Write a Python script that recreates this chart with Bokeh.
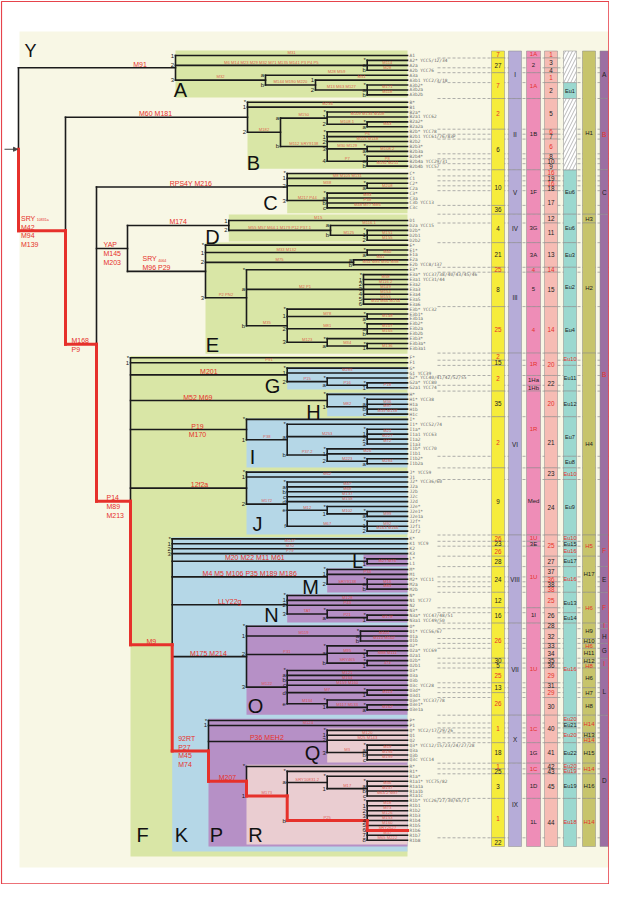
from bokeh.plotting import figure
from bokeh.models import Range1d, ColumnDataSource, Arrow, NormalHead
from bokeh.core.properties import value
from bokeh.embed import file_html
from bokeh.resources import INLINE

# ======================= DATA =======================
clade_A = ("A", ["A1", ("A2", ["A2*", "A2a", "A2b"]),
                 ("A3", ["A3a", ("A3b", ["A3b1", ("A3b2", ["A3b2*", "A3b2a", "A3b2b"])])])])
clade_B = ("B", ["B*", "B1",
                 ("B2", [("B2a", ["B2a*", "B2a1", ("B2a2", ["B2a2*", "B2a2a"])]),
                         ("B2b", ["B2b*", "B2b1", "B2b2", ("B2b3", ["B2b3*", "B2b3a"]),
                                  ("B2b4", ["B2b4*", "B2b4a", "B2b4b"])])])])
clade_C = ("C", ["C*", "C1", ("C2", ["C2*", "C2a"]), ("C3", ["C3*", "C3a", "C3b", "C3c"])])
clade_D = ("D", ["D1", ("D2", ["D2a", ("D2b", ["D2b*", "D2b1", "D2b2"])])])
clade_E = ("E", ["E*", ("E1", ["E1*", "E1a"]), ("E2", ["E2a", "E2b"]),
                 ("E3", ["E3*",
                         ("E3a", ["E3a*", "E3a1", "E3a2", "E3a3", "E3a4", "E3a5", "E3a6"]),
                         ("E3b", ["E3b*", ("E3b1", ["E3b1*", "E3b1a"]),
                                  ("E3b2", ["E3b2*", "E3b2a", "E3b2b"]),
                                  ("E3b3", ["E3b3*", ("E3b3a", ["E3b3a*", "E3b3a1"])])])])])
clade_G = ("G", ["G*", "G1", ("G2", ["G2*", ("G2a", ["G2a*", "G2a1"])])])
clade_H = ("H", ["H*", ("H1", ["H1*", "H1a", "H1b", "H1c"])])
clade_I = ("I", ["I*", ("I1", ["I1*", ("I1a", ["I1a*", "I1a1", "I1a2", "I1a3"]),
                               ("I1b", ["I1b*", "I1b1", ("I1b2", ["I1b2*", "I1b2a"])])])])
clade_J = ("J", ["J*", "J1", ("J2", ["J2*", "J2a", "J2b", "J2c", "J2d",
                                     ("J2e", ["J2e*", ("J2e1", ["J2e1*", "J2e1a"])]),
                                     ("J2f", ["J2f*", "J2f1", "J2f2"])])])
clade_L = ("L", ["L*", "L1"])
clade_M = ("M", ["M*", "M1", ("M2", ["M2*", "M2a", "M2b"])])
clade_N = ("N", ["N*", "N1", "N2", ("N3", ["N3*", ("N3a", ["N3a*", "N3a1"])])])
clade_O = ("O", ["O*", ("O1", ["O1*", "O1a", "O1b"]),
                 ("O2", ["O2*", ("O2a", ["O2a*", "O2a1"]), ("O2b", ["O2b*", "O2b1"])]),
                 ("O3", ["O3*", "O3a", "O3b", "O3c", ("O3d", ["O3d*", "O3d1"]),
                         ("O3e", ["O3e*", ("O3e1", ["O3e1*", "O3e1a"])])])])
clade_Q = ("Q", ["Q*", "Q1", "Q2", ("Q3", ["Q3*", "Q3a", "Q3b", "Q3c"])])
clade_R = ("R", ["R*", ("R1", ["R1*",
                               ("R1a", ["R1a*", ("R1a1", ["R1a1*", "R1a1a", "R1a1b", "R1a1c"])]),
                               ("R1b", ["R1b*", "R1b1", "R1b2", "R1b3", "R1b4",
                                        "R1b5", "R1b6", "R1b7", "R1b8"])])])
clade_P = ("P", ["P*", "P1", clade_Q, clade_R])
clade_K = ("K", ["K*", "K1", "K2", "K3", clade_L, clade_M, clade_N, clade_O, clade_P])
clade_F = ("F", ["F*", "F1", clade_G, clade_H, clade_I, clade_J, clade_K])
node_YAP = ("YAP", [clade_D, clade_E])
node_M168 = ("M168", [clade_C, node_YAP, clade_F])
node_M42 = ("M42", [clade_B, node_M168])
tree = ("Y", [clade_A, node_M42])

highlight_leaf = "R1b6"

# major mutation labels: (lines above branch, lines below branch, anchoring)
major_markers = {
    "A": (["M91"], [], "c"),
    "M42": (["SRY_10831a", "M42"], ["M94", "M139"], "l"),
    "B": (["M60  M181"], [], "c"),
    "M168": (["M168"], ["P9"], "l"),
    "C": (["RPS4Y  M216"], [], "c"),
    "YAP": (["YAP"], ["M145", "M203"], "l"),
    "D": (["M174"], [], "c"),
    "E": (["SRY_4064", "M96    P29"], [], "l"),
    "F": (["P14"], ["M89", "M213"], "l"),
    "G": (["M201"], [], "c"),
    "H": (["M52  M69"], [], "c"),
    "I": (["P19"], ["M170"], "c"),
    "J": (["12f2a"], [], "c"),
    "K": (["M9"], [], "c"),
    "L": (["M20  M22  M11  M61"], [], "c"),
    "M": (["M4 M5 M106 P35 M189 M186"], [], "c"),
    "N": (["LLY22g"], [], "c"),
    "O": (["M175  M214"], [], "c"),
    "P": (["92RT", "P27"], ["M45", "M74"], "l"),
    "Q": (["P36  MEH2"], [], "c"),
    "R": (["M207"], [], "c"),
}

branch_markers = {
    "A1": "M31", "A2": "M6 M14 M23 M29 M32 M71 M135 M141 P3 P4 P5", "A2a": "M114", "A2b": "M28",
    "A3": "M32", "A3a": "M28 M59", "A3b": "M144 M190 M220", "A3b1": "M51", "A3b2": "M13 M63 M127",
    "A3b2a": "M171", "A3b2b": "M118",
    "B1": "M236", "B2": "M182", "B2a": "M150", "B2a1": "M109 M135 M108", "B2a2": "M108.1", "B2a2a": "M43",
    "B2b": "M112 SRY9138", "B2b1": "P6", "B2b2": "M115 M148", "B2b3": "M30 M129", "B2b3a": "M108.2",
    "B2b4": "P7", "B2b4a": "P8", "B2b4b": "M192 M211",
    "C1": "M8 M105 M131", "C2": "M38", "C2a": "M208", "C3": "M217 P44", "C3a": "M93", "C3b": "P39",
    "C3c": "M48 M77 M86",
    "D1": "M15", "D2": "M55 M57 M64.1 M179 P12 P37.1", "D2a": "M116.1", "D2b": "M125", "D2b1": "M151",
    "D2b2": "M155",
    "E1": "M33 M132", "E1a": "M40", "E2": "M75", "E2a": "M41", "E2b": "M54 M85 M90 M98",
    "E3": "P2 PN2", "E3a": "M2 P1", "E3a1": "M58", "E3a2": "M116.2", "E3a3": "M149", "E3a4": "M154",
    "E3a5": "M155", "E3a6": "M10 M66 M154",
    "E3b": "M35", "E3b1": "M78", "E3b1a": "M148", "E3b2": "M81", "E3b2a": "M107", "E3b2b": "M165",
    "E3b3": "M123", "E3b3a": "M34", "E3b3a1": "M136",
    "F1": "P91", "G1": "M285", "G2": "P15", "G2a": "P16", "G2a1": "P18",
    "H1": "M82", "H1a": "M36", "H1b": "M97", "H1c": "M39 M138",
    "I1": "P38", "I1a": "M253", "I1a1": "M21", "I1a2": "M227", "I1a3": "M72", "I1b": "P37.2",
    "I1b1": "M26", "I1b2": "M223", "I1b2a": "M284",
    "J1": "M62", "J2": "M172", "J2a": "M47", "J2b": "M68", "J2c": "M137", "J2d": "M158", "J2e": "M12",
    "J2e1": "M102", "J2e1a": "M99", "J2f": "M67", "J2f1": "M92", "J2f2": "M163 M166",
    "K1": "M147", "K2": "M70", "K3": "P79",
    "L1": "M27 M76", "M1": "P34", "M2": "SRY9138", "M2a": "M16", "M2b": "M83",
    "N1": "M128", "N2": "P43", "N3": "TAT", "N3a": "P21", "N3a1": "M178",
    "O1": "M119", "O1a": "M101", "O1b": "M110 M102", "O2": "P31", "O2a": "M95", "O2a1": "M88 M111",
    "O2b": "SRY465", "O2b1": "47z", "O3": "M122", "O3a": "M121", "O3b": "M164", "O3c": "M159 M160",
    "O3d": "M7", "O3d1": "M113", "O3e": "M134", "O3e1": "M117 M133", "O3e1a": "M162",
    "P1": "M124", "Q1": "M120", "Q2": "M25 M143", "Q3": "M3", "Q3a": "M19", "Q3b": "M194", "Q3c": "M199",
    "R1": "M173", "R1a": "SRY10831.2", "R1a1": "M17", "R1a1a": "M56", "R1a1b": "M157", "R1a1c": "M64.2 M87",
    "R1b": "P25", "R1b1": "M18", "R1b2": "M73", "R1b3": "M126", "R1b4": "M153", "R1b5": "M160",
    "R1b6": "SRY2627", "R1b7": "M37", "R1b8": "M65 M222",
}

leaf_notes = {
    "A2*": "YCC5/12/34", "A2b": "YCC76", "A3b1": "YCC2/3/18", "B2a1": "YCC62", "B2b*": "YCC78",
    "B2b1": "YCC61/76/83P", "B2b4a": "YCC29/31", "B2b4b": "YCC57", "C3b": "YCC13", "D2a": "YCC15",
    "E2b": "YCC8/137", "E3a*": "YCC37/38/40/43/45/46", "E3a1": "YCC31/44", "E3b*": "YCC32",
    "G1": "YCC39", "G2*": "YCC40/41/42/52/55", "G2a*": "YCC80", "G2a1": "YCC74", "H1*": "YCC38",
    "I1*": "YCC52/74", "I1a1": "YCC63", "I1b*": "YCC70", "J*": "YCC59", "J2*": "YCC36/60",
    "K1": "YCC9", "M2*": "YCC11", "N1": "YCC77", "N3a*": "YCC47/48/51", "N3a1": "YCC49/50",
    "O1*": "YCC56/67", "O2a*": "YCC69", "O3c": "YCC28", "O3e*": "YCC37/78", "Q*": "YCC2/17/29/26",
    "Q3*": "YCC12/15/23/24/27/28", "Q3c": "YCC14", "R1a1*": "YCC75/82", "R1b*": "YCC26/27/30/65/71",
}

# clade shading: clade -> colour key
clade_boxes = [("A", "g"), ("B", "g"), ("C", "g"), ("D", "g"), ("E", "g"), ("F", "g"),
               ("G", "b"), ("H", "b"), ("I", "b"), ("J", "b"), ("K", "b"),
               ("L", "p"), ("M", "p"), ("N", "p"), ("O", "p"), ("P", "p"),
               ("Q", "r"), ("R", "r")]

# right-hand nomenclature columns: (label, first leaf, last leaf, style 0=black 1=red 2=hatched)
col_yellow = [
    ("7", "A1", "A1", 1), ("27", "A2*", "A2b", 0), ("7", "A3a", "A3b2b", 1),
    ("2", "B*", "B2a2a", 1), ("6", "B2b*", "B2b4b", 0),
    ("10", "C*", "C3b", 0), ("36", "C3c", "C3c", 0), ("4", "D1", "D2b2", 0),
    ("21", "E*", "E2b", 0), ("25", "E3*", "E3*", 1), ("8", "E3a*", "E3a6", 0), ("25", "E3b*", "E3b3a1", 1),
    ("2", "F*", "F*", 1), ("15", "F1", "F1", 0), ("2", "G*", "G2a1", 1), ("35", "H*", "H1c", 0),
    ("2", "I*", "I1b2a", 1), ("9", "J*", "J2f2", 0),
    ("26", "K*", "K*", 1), ("23", "K1", "K1", 0), ("26", "K2", "K3", 1), ("28", "L*", "L1", 0),
    ("24", "M*", "M2b", 0), ("12", "N*", "N2", 0), ("16", "N3*", "N3a1", 0),
    ("26", "O*", "O2a1", 1), ("30", "O2b*", "O2b*", 0), ("5", "O2b1", "O2b1", 0), ("25", "O3*", "O3b", 1),
    ("13", "O3c", "O3d*", 0), ("26", "O3d1", "O3e1a", 1),
    ("1", "P*", "Q2", 1), ("18", "Q3*", "Q3c", 0),
    ("1", "R*", "R*", 1), ("25", "R1*", "R1*", 0), ("3", "R1a*", "R1a1c", 0), ("1", "R1b*", "R1b7", 1),
    ("22", "R1b8", "R1b8", 0),
]
col_roman = [
    ("I", "A1", "A3b2b", 0), ("II", "B*", "B2b4b", 0), ("V", "C*", "C3c", 0), ("IV", "D1", "D2b2", 0),
    ("III", "E*", "E3b3a1", 0), ("VI", "F*", "J2f2", 0), ("VIII", "K*", "N3a1", 0),
    ("VII", "O*", "O3e1a", 0), ("X", "P*", "Q3c", 0), ("IX", "R*", "R1b8", 0),
]
col_pink = [
    ("1A", "A1", "A1", 1), ("2", "A2*", "A2b", 0), ("1A", "A3a", "A3b2b", 1), ("1B", "B*", "B2b4b", 0),
    ("1F", "C*", "C3c", 0), ("3G", "D1", "D2b2", 0), ("3A", "E*", "E2b", 0), ("4", "E3*", "E3*", 1),
    ("5", "E3a*", "E3a6", 0), ("4", "E3b*", "E3b3a1", 1), ("1R", "F*", "G1", 1), ("1Ha", "G2*", "G2a*", 0),
    ("1Hb", "G2a1", "G2a1", 0), ("1R", "H*", "I1b2a", 1), ("Med", "J*", "J2f2", 0), ("1U", "K*", "K*", 1),
    ("3E", "K1", "K1", 0), ("1U", "K2", "N2", 1), ("1I", "N3*", "N3a1", 0), ("1U", "O*", "O3e1a", 1),
    ("1C", "P*", "Q2", 1), ("1G", "Q3*", "Q3c", 0), ("1C", "R*", "R1*", 1), ("1D", "R1a*", "R1a1c", 0),
    ("1L", "R1b*", "R1b8", 0),
]
col_salmon = [
    ("1", "A1", "A1", 1), ("3", "A2*", "A2a", 0), ("4", "A2b", "A2b", 0), ("1", "A3a", "A3b1", 1),
    ("2", "A3b2*", "A3b2b", 0), ("5", "B*", "B2a2a", 0), ("6", "B2b*", "B2b*", 1), ("7", "B2b1", "B2b1", 0),
    ("6", "B2b2", "B2b3a", 1), ("8", "B2b4*", "B2b4*", 0), ("10", "B2b4a", "B2b4a", 0), ("9", "B2b4b", "B2b4b", 0),
    ("16", "C*", "C*", 1), ("19", "C1", "C1", 0), ("16", "C2*", "C2*", 1), ("18", "C2a", "C2a", 0),
    ("17", "C3*", "C3c", 0), ("12", "D1", "D1", 0), ("11", "D2a", "D2b2", 0), ("13", "E*", "E2b", 0),
    ("14", "E3*", "E3*", 1), ("15", "E3a*", "E3a6", 0), ("14", "E3b*", "E3b3a1", 1), ("20", "F*", "G1", 1),
    ("22", "G2*", "G2a1", 0), ("20", "H*", "H1c", 1), ("21", "I*", "I1b2a", 0), ("23", "J*", "J1", 0),
    ("24", "J2*", "J2f2", 0), ("25", "K*", "K3", 1), ("27", "L*", "L1", 0), ("37", "M*", "M1", 0),
    ("36", "M2*", "M2*", 1), ("38", "M2a", "M2a", 0), ("38", "M2b", "M2b", 1), ("25", "N*", "N2", 1),
    ("26", "N3*", "N3a1", 0), ("28", "O*", "O*", 0), ("32", "O1*", "O1b", 0), ("33", "O2*", "O2*", 0),
    ("34", "O2a*", "O2a1", 0), ("35", "O2b*", "O2b*", 0), ("36", "O2b1", "O2b1", 0), ("29", "O3*", "O3b", 1),
    ("31", "O3c", "O3c", 0), ("29", "O3d*", "O3d1", 1), ("30", "O3e*", "O3e1a", 0), ("40", "P*", "Q2", 0),
    ("41", "Q3*", "Q3c", 0), ("42", "R*", "R*", 0), ("43", "R1*", "R1*", 0), ("45", "R1a*", "R1a1c", 0),
    ("44", "R1b*", "R1b8", 0),
]
col_teal = [
    ("", "A1", "A3b1", 2), ("Eu1", "A3b2*", "A3b2b", 0), ("", "B*", "B2b4b", 2), ("Eu6", "C*", "C3c", 0),
    ("Eu6", "D1", "D2b2", 0), ("Eu3", "E*", "E2b", 0), ("Eu2", "E3*", "E3a6", 0), ("Eu4", "E3b*", "E3b3a1", 0),
    ("Eu10", "F*", "F1", 1), ("Eu11", "G*", "G2a1", 0), ("Eu12", "H*", "H1c", 0), ("Eu7", "I*", "I1b1", 0),
    ("Eu8", "I1b2*", "I1b2a", 0), ("Eu10", "J*", "J1", 1), ("Eu9", "J2*", "J2f2", 0), ("Eu10", "K*", "K*", 1),
    ("Eu15", "K1", "K1", 0), ("Eu16", "K2", "K3", 1), ("Eu17", "L*", "L1", 0), ("Eu16", "M*", "M2b", 1),
    ("Eu13", "N*", "N3*", 0), ("Eu14", "N3a*", "N3a1", 0), ("Eu16", "O*", "O3e1a", 1), ("Eu20", "P*", "P*", 1),
    ("Eu21", "P1", "P1", 0), ("Eu20", "Q*", "Q2", 1), ("Eu22", "Q3*", "Q3c", 0), ("Eu20", "R*", "R*", 1),
    ("Eu19", "R1*", "R1*", 1), ("Eu19", "R1a*", "R1a1c", 0), ("Eu18", "R1b*", "R1b8", 1),
]
col_olive = [
    ("H1", "A1", "C3c", 0), ("H3", "D1", "D1", 0), ("H2", "D2a", "E3b3a1", 0), ("H4", "F*", "J2f2", 0),
    ("H5", "K*", "K3", 1), ("H17", "L*", "M2b", 0), ("H6", "N*", "N3a1", 1), ("H9", "O*", "O1a", 0),
    ("H10", "O1b", "O1b", 0), ("H6", "O2*", "O2*", 1), ("H11", "O2a*", "O2a1", 0), ("H12", "O2b*", "O2b*", 0),
    ("H8", "O2b1", "O2b1", 1), ("H6", "O3*", "O3c", 0), ("H7", "O3d*", "O3d1", 0), ("H8", "O3e*", "O3e1a", 0),
    ("H14", "P*", "Q*", 1), ("H13", "Q1", "Q1", 0), ("H14", "Q2", "Q2", 1), ("H15", "Q3*", "Q3c", 0),
    ("H14", "R*", "R1*", 1), ("H16", "R1a*", "R1a1c", 0), ("H14", "R1b*", "R1b8", 1),
]
col_purple = [
    ("A", "A1", "A3b2b", 0), ("B", "B*", "B2b4b", 1), ("C", "C*", "C3c", 0), ("B", "D1", "J2f2", 1),
    ("F", "K*", "L1", 1), ("E", "M*", "M2b", 0), ("F", "N*", "N3a1", 1), ("I", "O*", "O*", 1),
    ("H", "O1*", "O1b", 0), ("G", "O2*", "O2a1", 0), ("I", "O2b*", "O2b1", 1), ("L", "O3*", "O3e1a", 0),
    ("D", "P*", "R1b8", 0),
]

# ======================= LAYOUT =======================
LEAF_X = 407
ROW = 4.92
FIRST_Y = 55
ROW_GAP = {"B*": 2.4, "C*": 2.4, "D1": 7.7, "F*": 4.4, "G*": 0.5, "H*": 1.7, "I*": 0.4, "J*": 3.5,
           "K*": 2.8, "L*": 0.3, "M*": 0.8, "N*": 1.4, "O*": 1.2, "P*": 5.8, "R*": 1.6}
NODE_X = {
    "Y": 18, "M42": 65, "M168": 96, "YAP": 127, "F": 130, "K": 171.7, "P": 208,
    "A": 175, "A2": 366.7, "A3": 265, "A3b": 315, "A3b2": 366.7,
    "B": 247, "B2": 280, "B2a": 326.7, "B2a2": 366.7, "B2b": 326.7, "B2b3": 366.7, "B2b4": 366.7,
    "C": 286.7, "C2": 366.7, "C3": 326.7,
    "D": 228.3, "D2": 330, "D2b": 366.7,
    "E": 205, "E1": 366.7, "E2": 353, "E3": 246, "E3a": 363, "E3b": 286.7, "E3b1": 366.7,
    "E3b2": 366.7, "E3b3": 326.7, "E3b3a": 366.7,
    "G": 286.7, "G2": 326.7, "G2a": 366.7, "H": 326.7, "H1": 366.7,
    "I": 246, "I1": 286.7, "I1a": 366.7, "I1b": 326.7, "I1b2": 366.7,
    "J": 246, "J2": 286.7, "J2e": 326.7, "J2e1": 366.7, "J2f": 366.7,
    "L": 366.7, "M": 326.7, "M2": 366.7, "N": 286.7, "N3": 326.7, "N3a": 366.7,
    "O": 246, "O1": 360, "O2": 326.7, "O2a": 366.7, "O2b": 366.7, "O3": 286.7, "O3d": 366.7,
    "O3e": 326.7, "O3e1": 366.7,
    "Q": 326.7, "Q3": 366.7, "R": 246, "R1": 286.7, "R1a": 326.7, "R1a1": 366.7, "R1b": 366.7,
}
BOX_PAD = {"A": (5, 2.6), "B": (1.7, 2.7), "C": (0.3, 5.3), "D": (6, 1.3), "E": (2.7, 5.3),
           "F": (1.8, 16.3), "G": (1, 1.7), "H": (1.6, 2.1), "I": (1, 3.8), "J": (1, 3.4),
           "K": (1.7, 11.3), "L": (4.4, 2.7), "M": (1, 3.3), "N": (1, 2.4), "O": (0.7, 5),
           "P": (1.8, 6.3), "Q": (2, 2.6), "R": (1.6, 4.3)}
BOX_LEFT_ADJ = {"L": -3.7}
LETTER_POS = {"A": (5, -7), "B": (6, -6.3), "C": (-16.7, -10.7), "D": (-16.3, -5), "E": (7, -8.3),
              "F": (12, -22), "G": (-14.7, -3), "H": (-13.7, -4), "I": (6, -10), "J": (11, -11),
              "K": (9.3, -17), "L": (-6, -5), "M": (-16.7, -5), "N": (-15.7, -7), "O": (9, -9.3),
              "P": (8, -12), "Q": (-14.7, -10), "R": (9, -10)}
MAJOR_DX = {"A": 43, "H": -30, "L": -12, "I": 9, "J": 11, "M42": 2.5, "M168": 6, "YAP": 7,
            "E": 15, "F": 10, "P": 6}
BOX_COLORS = {"g": "#d9e6a6", "b": "#b5d7e7", "p": "#b690c6", "r": "#eacdd1"}
COLUMNS = [(col_yellow, 491, 504, "#f6ec3b", 6.3), (col_roman, 508, 521, "#b6acd8", 6.3),
           (col_pink, 526, 540, "#ee8db7", 6.0), (col_salmon, 544, 557, "#f6bcb4", 6.3),
           (col_teal, 563, 576, "#9bd8cf", 5.6), (col_olive, 582, 595, "#c7c46b", 6.0),
           (col_purple, 599.5, 608, "#9c6fa2", 6.5)]
RED = "#e6312b"
BLACK = "#1b1b1b"
FONT = value("Liberation Sans")
PW, PH = 609, 884

# ======================= BUILD =======================
pos_x, pos_y, parent, kids = {}, {}, {}, {}
leaf_order = []
state = {"y": None}


def place(node, par):
    if isinstance(node, str):
        y = FIRST_Y if state["y"] is None else state["y"] + ROW + ROW_GAP.get(node, 0.0)
        state["y"] = y
        pos_x[node], pos_y[node] = LEAF_X, y
        parent[node] = par
        leaf_order.append(node)
        return
    name, ch = node
    parent[name] = par
    kids[name] = []
    for c in ch:
        place(c, name)
        kids[name].append(c if isinstance(c, str) else c[0])
    pos_x[name] = NODE_X[name]
    pos_y[name] = (pos_y[kids[name][0]] + pos_y[kids[name][-1]]) / 2


place(tree, None)
leaf_index = {n: i for i, n in enumerate(leaf_order)}


def first_leaf(n):
    while n in kids:
        n = kids[n][0]
    return n


def last_leaf(n):
    while n in kids:
        n = kids[n][-1]
    return n


def edge_above(leaf):
    i = leaf_index[leaf]
    return 50.5 if i == 0 else (pos_y[leaf_order[i - 1]] + pos_y[leaf]) / 2


def edge_below(leaf):
    i = leaf_index[leaf]
    return 846 if i == len(leaf_order) - 1 else (pos_y[leaf] + pos_y[leaf_order[i + 1]]) / 2


p = figure(width=PW, height=PH, x_range=Range1d(0, PW), y_range=Range1d(PH, 0),
           output_backend="svg", toolbar_location=None, min_border=0,
           x_axis_location=None, y_axis_location=None)
p.grid.visible = False
p.outline_line_color = None
p.background_fill_color = "white"
p.border_fill_color = "white"


def add_text(xs, ys, texts, size, colors, align="center", baseline="middle", alpha=1.0, font=FONT):
    src = ColumnDataSource(dict(x=xs, y=ys, t=texts, c=colors))
    p.text("x", "y", text="t", source=src, text_color="c", text_font=font,
           text_font_size=size, text_align=align, text_baseline=baseline, text_alpha=alpha)


# background panel
p.quad(left=[19], right=[616], top=[31], bottom=[867], fill_color="#f8f7e5", line_color=None)

# clade boxes
bl, br, bt, bb, bc = [], [], [], [], []
box_geom = {}
for cl, ck in clade_boxes:
    top = pos_y[first_leaf(cl)] - BOX_PAD[cl][0]
    bot = pos_y[last_leaf(cl)] + BOX_PAD[cl][1]
    left = pos_x[cl] + BOX_LEFT_ADJ.get(cl, 0)
    box_geom[cl] = (left, bot)
    bl.append(left); br.append(LEAF_X); bt.append(top); bb.append(bot); bc.append(BOX_COLORS[ck])
p.quad(left=bl, right=br, top=bt, bottom=bb, fill_color=bc, line_color=None)

# dashed guide lines at nomenclature boundaries
bounds = set()
for segs, _, _, _, _ in COLUMNS:
    for lab, a, b, st in segs:
        if leaf_index[a] > 0:
            bounds.add(round(edge_above(a), 1))
bys = sorted(bounds)
p.segment(x0=[437] * len(bys), y0=bys, x1=[616] * len(bys), y1=bys, line_color="#9a9a9a",
          line_width=0.8, line_dash="3 2")

# nomenclature columns
for segs, x0, x1, col, fs in COLUMNS:
    L, R, T, B, TX, TY, TT, TC = [], [], [], [], [], [], [], []
    HL, HR, HT, HB = [], [], [], []
    for lab, a, b, st in segs:
        t, bo = edge_above(a), edge_below(b)
        if st == 2:
            HL.append(x0); HR.append(x1); HT.append(t); HB.append(bo)
            continue
        L.append(x0); R.append(x1); T.append(t); B.append(bo)
        TX.append((x0 + x1) / 2); TY.append((t + bo) / 2); TT.append(lab)
        TC.append(RED if st == 1 else "#222222")
    p.quad(left=L, right=R, top=T, bottom=B, fill_color=col, line_color="#8a8a8a", line_width=0.5)
    if HL:
        p.quad(left=HL, right=HR, top=HT, bottom=HB, fill_color="white", line_color="#8a8a8a",
               line_width=0.5, hatch_pattern="/", hatch_color="#8a8a8a", hatch_scale=7, hatch_weight=0.6)
    add_text(TX, TY, TT, "%.1fpx" % fs, TC)

# tree lines
x0s, y0s, x1s, y1s = [], [], [], []
for n, ch in kids.items():
    x = pos_x[n]
    x0s.append(x); y0s.append(pos_y[ch[0]]); x1s.append(x); y1s.append(pos_y[ch[-1]])
    for c in ch:
        x0s.append(x); y0s.append(pos_y[c]); x1s.append(pos_x[c]); y1s.append(pos_y[c])
p.segment(x0=x0s, y0=y0s, x1=x1s, y1=y1s, line_color=BLACK, line_width=1.6, line_cap="square")

# highlighted lineage
rx0, ry0, rx1, ry1 = [], [], [], []
n = highlight_leaf
while parent[n] is not None:
    par = parent[n]
    rx0 += [pos_x[par], pos_x[par]]; ry0 += [pos_y[par], pos_y[n]]
    rx1 += [pos_x[par], pos_x[n]]; ry1 += [pos_y[n], pos_y[n]]
    n = par
p.segment(x0=rx0, y0=ry0, x1=rx1, y1=ry1, line_color=RED, line_width=3, line_cap="square")

# leaf names
lx, ly, lt = [], [], []
for lf in leaf_order:
    lx.append(LEAF_X + 2); ly.append(pos_y[lf])
    lt.append(lf + ("  " + leaf_notes[lf] if lf in leaf_notes else ""))
add_text(lx, ly, lt, "4.5px", ["#6f6f6f"] * len(lx), align="left", font=value("DejaVu Sans Mono"))

# child index labels
ix, iy, it = [], [], []
for n, ch in kids.items():
    for c in ch:
        if c.startswith(n) and len(c) > len(n):
            ix.append(pos_x[n] - 1.3); iy.append(pos_y[c]); it.append(c[len(n):])
add_text(ix, iy, it, "6px", [BLACK] * len(ix), align="right")

# small marker labels on branches
mx, my, mt = [], [], []
for c, m in branch_markers.items():
    par = parent[c]
    mx.append((pos_x[par] + pos_x[c]) / 2); my.append(pos_y[c] - 0.7); mt.append(m)
add_text(mx, my, mt, "4.2px", ["#e04a40"] * len(mx), baseline="bottom", alpha=0.85)

# major marker labels
Mx, My, Mt, Ma = [], [], [], []
Sx, Sy, St = [], [], []
for c, (above, below, mode) in major_markers.items():
    par = parent[c]
    yb = pos_y[c]
    if mode == "c":
        x = (pos_x[par] + pos_x[c]) / 2 + MAJOR_DX.get(c, 0)
        al = "center"
    else:
        x = pos_x[par] + MAJOR_DX.get(c, 6)
        al = "left"
    lines = [(ln, yb - 3.5 - 9 * (len(above) - 1 - i)) for i, ln in enumerate(above)]
    lines += [(ln, yb + 5 + 9 * i) for i, ln in enumerate(below)]
    for ln, yy in lines:
        if "_" in ln:
            main, sub = ln.split("_")
            Mx.append(x); My.append(yy); Mt.append(main); Ma.append(al)
            Sx.append(x + 4.6 * len(main) + 2); Sy.append(yy + 1.5); St.append(sub)
        else:
            Mx.append(x); My.append(yy); Mt.append(ln); Ma.append(al)
for al in ("center", "left"):
    sel = [i for i in range(len(Mx)) if Ma[i] == al]
    add_text([Mx[i] for i in sel], [My[i] for i in sel], [Mt[i] for i in sel], "7px",
             [RED] * len(sel), align=al)
add_text(Sx, Sy, St, "3.6px", [RED] * len(Sx), align="left")

# clade letters
gx, gy, gt = [], [], []
for cl, (dx, dy) in LETTER_POS.items():
    left, bot = box_geom[cl]
    gx.append(left + dx); gy.append(bot + dy); gt.append(cl)
add_text(gx, gy, gt, "20px", ["#111111"] * len(gx))
add_text([30], [50], ["Y"], "18px", ["#111111"])

# root arrow
p.add_layout(Arrow(end=NormalHead(size=4, fill_color="#444444", line_color="#444444"),
                   x_start=4, y_start=pos_y["Y"], x_end=17, y_end=pos_y["Y"],
                   line_color="#444444", line_width=1))

# outer frame
p.quad(left=[1], right=[PW - 0.7], top=[1], bottom=[PH - 0.7], fill_alpha=0,
       line_color="#e6434b", line_width=1.2)

open("out.html", "w").write(file_html(p, INLINE))
